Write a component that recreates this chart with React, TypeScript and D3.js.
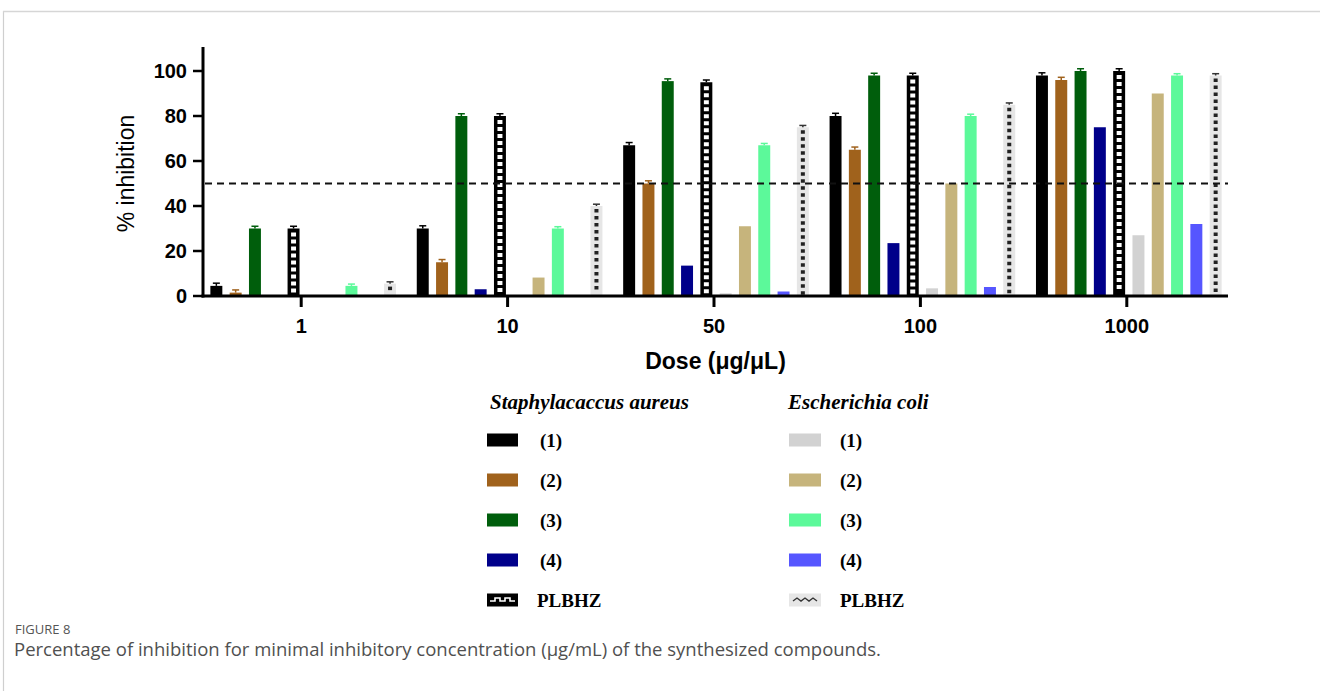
import React from "react";
import * as d3 from "d3";

// ---------- data ----------
const doses = ["1", "10", "50", "100", "1000"];
const yTicks = [0, 20, 40, 60, 80, 100];

const saureus1 = [4.5, 30, 67, 80, 98];
const saureus2 = [1.5, 15, 50, 65, 96];
const saureus3 = [30, 80, 95.5, 98, 100];
const saureus4 = [0, 3, 13.5, 23.5, 75];
const saureusPLBHZ = [30, 80, 95, 98, 100];
const ecoli1 = [0, 0, 1.2, 3.4, 27];
const ecoli2 = [0, 8.2, 31, 50, 90];
const ecoli3 = [4.5, 30, 67, 80, 98];
const ecoli4 = [0, 0, 2, 4, 32];
const ecoliPLBHZ = [5.5, 40, 75, 85, 98];

const seriesKeys = ["S1", "S2", "S3", "S4", "SP", "E1", "E2", "E3", "E4", "EP"];
const seriesValues = [saureus1, saureus2, saureus3, saureus4, saureusPLBHZ, ecoli1, ecoli2, ecoli3, ecoli4, ecoliPLBHZ];
const seriesErrors = [1.2, 1.2, 1, 0, 1, 0, 0, 0.8, 0, 0.8];
const seriesColors = ["#000000", "#a0621c", "#005e0c", "#00008a", "#000000", "#d2d2d2", "#c6b47c", "#5cf99a", "#5656ff", "#e6e6e6"];

const legendSa = ["(1)", "(2)", "(3)", "(4)", "PLBHZ"];
const legendEc = ["(1)", "(2)", "(3)", "(4)", "PLBHZ"];

// ---------- layout ----------
const W = 1320, H = 691;
const plotLeft = 203, plotRight = 1228, baseY = 296, topY = 47;

export default function App() {
  const x0 = d3.scaleBand<string>().domain(doses).range([200, 1232]).padding(0);
  const x1 = d3.scaleBand<string>().domain(seriesKeys).range([0, 193]).paddingInner(0.38).paddingOuter(0.19);
  const y = d3.scaleLinear().domain([0, 100]).range([baseY, 71]);
  const bw = x1.bandwidth();

  const bars: React.ReactNode[] = [];
  doses.forEach((d, gi) => {
    const gc = (x0(d) as number) + x0.bandwidth() / 2;
    const gx = gc - 96.5;
    seriesKeys.forEach((k, si) => {
      const v = seriesValues[si][gi];
      const bx = gx + (x1(k) as number);
      const top = y(v);
      const h = baseY - top;
      const key = `${d}-${k}`;
      if (k === "SP") {
        bars.push(<rect key={key} x={bx} y={top} width={bw} height={h} fill="#000" />);
        const sq = d3.range(top + 4, baseY - 4, 7);
        sq.forEach((sy, i) =>
          bars.push(<rect key={`${key}-sq${i}`} x={bx + 3.5} y={sy} width={bw - 7} height={4} fill="#fff" />)
        );
      } else if (k === "EP") {
        bars.push(<rect key={key} x={bx} y={top} width={bw} height={h} fill={seriesColors[si]} />);
        const sq = d3.range(top + 3, baseY - 3, 7);
        sq.forEach((sy, i) =>
          bars.push(<rect key={`${key}-sq${i}`} x={bx + bw / 2 - 2} y={sy} width={4} height={3.5} fill="#222" />)
        );
      } else if (v > 0) {
        bars.push(<rect key={key} x={bx} y={top} width={bw} height={h} fill={seriesColors[si]} />);
      }
      const e = seriesErrors[si];
      if (e > 0 && v > 0) {
        const ec = k === "EP" ? "#333" : k === "E3" ? "#5cf99a" : seriesColors[si];
        bars.push(
          <g key={`${key}-err`} stroke={ec} strokeWidth={1.5}>
            <line x1={bx + bw / 2} x2={bx + bw / 2} y1={top} y2={y(v + e)} />
            <line x1={bx + bw / 2 - 3.5} x2={bx + bw / 2 + 3.5} y1={y(v + e)} y2={y(v + e)} />
          </g>
        );
      }
    });
  });

  const legendRowsY = [440, 480, 520, 560, 600];

  return (
    <svg width={W} height={H} style={{ position: "absolute", left: 0, top: 0, background: "#fff" }}>
      {/* frame */}
      <line x1={3.5} x2={3.5} y1={11} y2={H} stroke="#cfcfcf" strokeWidth={1.2} />
      <line x1={3} x2={W} y1={11.5} y2={11.5} stroke="#d6d6d6" strokeWidth={1.5} />

      {bars}

      {/* 50% reference line */}
      <line x1={plotLeft + 2} x2={plotRight} y1={y(50)} y2={y(50)} stroke="#111" strokeWidth={2.2} strokeDasharray="7,5" />

      {/* y axis */}
      <line x1={plotLeft} x2={plotLeft} y1={topY} y2={baseY + 1.5} stroke="#000" strokeWidth={3} />
      {yTicks.map((t) => (
        <g key={t}>
          <line x1={plotLeft - 10} x2={plotLeft} y1={y(t)} y2={y(t)} stroke="#000" strokeWidth={2.5} />
          <text x={plotLeft - 16} y={y(t)} dy="0.36em" textAnchor="end" fontFamily="Liberation Sans, Arial" fontWeight="bold" fontSize={20} fill="#000">
            {t}
          </text>
        </g>
      ))}
      <text transform={`translate(134,${(topY + baseY) / 2 + 2}) rotate(-90)`} textAnchor="middle" fontFamily="Liberation Sans, Arial" fontSize={23} fill="#000">
        % inhibition
      </text>

      {/* x axis */}
      <line x1={plotLeft - 1.5} x2={plotRight} y1={baseY} y2={baseY} stroke="#000" strokeWidth={3} />
      {doses.map((d) => {
        const cx = (x0(d) as number) + x0.bandwidth() / 2 - 2;
        return (
          <g key={d}>
            <line x1={cx} x2={cx} y1={baseY} y2={baseY + 11} stroke="#000" strokeWidth={3} />
            <text x={cx} y={326} dy="0.36em" textAnchor="middle" fontFamily="Liberation Sans, Arial" fontWeight="bold" fontSize={20} fill="#000">
              {d}
            </text>
          </g>
        );
      })}
      <text x={(plotLeft + plotRight) / 2} y={361} dy="0.36em" textAnchor="middle" fontFamily="Liberation Sans, Arial" fontWeight="bold" fontSize={23} fill="#000">
        Dose (μg/μL)
      </text>

      {/* legend */}
      <text x={490} y={402} dy="0.35em" fontFamily="Liberation Serif, Times New Roman" fontWeight="bold" fontStyle="italic" fontSize={21} fill="#000">
        Staphylacaccus aureus
      </text>
      <text x={788} y={402} dy="0.35em" fontFamily="Liberation Serif, Times New Roman" fontWeight="bold" fontStyle="italic" fontSize={21} fill="#000">
        Escherichia coli
      </text>
      {legendSa.map((lab, i) => (
        <g key={`sa${i}`}>
          <rect x={487} y={legendRowsY[i] - 6.5} width={31} height={13} fill={seriesColors[i]} />
          {i === 4 && (
            <path d={`M490,${legendRowsY[i] + 1} h5 v-3 h5 v3 h5 v-3 h5 v3 h5`} stroke="#fff" strokeWidth={1.6} fill="none" />
          )}
          <text x={i === 4 ? 537 : 540} y={legendRowsY[i]} dy="0.35em" fontFamily="Liberation Serif, Times New Roman" fontWeight="bold" fontSize={19} fill="#000">
            {lab}
          </text>
        </g>
      ))}
      {legendEc.map((lab, i) => (
        <g key={`ec${i}`}>
          <rect x={789} y={legendRowsY[i] - 6.5} width={32} height={13} fill={seriesColors[5 + i]} />
          {i === 4 && (
            <path d={`M793,${legendRowsY[i] + 1} l4,-3 l4,3 l4,-3 l4,3 l4,-3 l4,3`} stroke="#333" strokeWidth={1.4} fill="none" />
          )}
          <text x={840} y={legendRowsY[i]} dy="0.35em" fontFamily="Liberation Serif, Times New Roman" fontWeight="bold" fontSize={19} fill="#000">
            {lab}
          </text>
        </g>
      ))}

      {/* caption */}
      <text x={15} y={629} dy="0.35em" fontFamily="Open Sans, Noto Sans" fontSize={13} fill="#555">
        FIGURE 8
      </text>
      <text x={14} y={650} dy="0.35em" fontFamily="Open Sans, Noto Sans" fontSize={18.5} fill="#505050">
        Percentage of inhibition for minimal inhibitory concentration (μg/mL) of the synthesized compounds.
      </text>
    </svg>
  );
}
